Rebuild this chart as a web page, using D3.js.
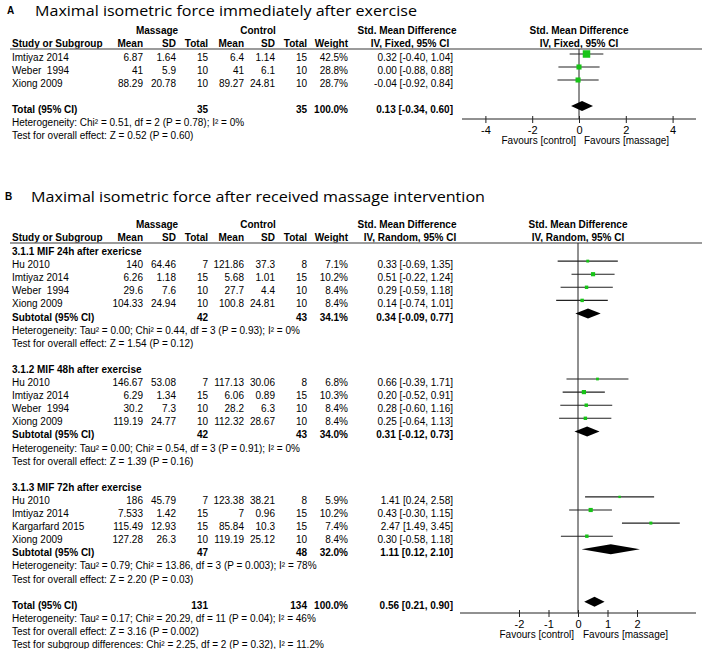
<!DOCTYPE html>
<html><head><meta charset="utf-8">
<script src="https://cdn.jsdelivr.net/npm/d3@7"></script>
<style>
body{margin:0;background:#fff;}
svg text{font-family:"Liberation Sans",Arial,sans-serif;font-size:10px;fill:#000;white-space:pre;}
</style></head>
<body><svg id="c" width="708" height="649"></svg>
<script>
// ---------- Panel A data ----------
const titleA = "Maximal isometric force immediately after exercise";
const studyA = ["Imtiyaz 2014", "Weber  1994", "Xiong 2009"];
const mMeanA = ["6.87", "41", "88.29"];
const mSDA = ["1.64", "5.9", "20.78"];
const mNA = [15, 10, 10];
const cMeanA = ["6.4", "41", "89.27"];
const cSDA = ["1.14", "6.1", "24.81"];
const cNA = [15, 10, 10];
const weightA = [42.5, 28.8, 28.7];
const smdA = [0.32, 0.00, -0.04];
const loA = [-0.40, -0.88, -0.92];
const hiA = [1.04, 0.88, 0.84];
const totalA = {mN: 35, cN: 35, w: 100.0, smd: 0.13, lo: -0.34, hi: 0.60};
const hetA = "Heterogeneity: Chi² = 0.51, df = 2 (P = 0.78); I² = 0%";
const testA = "Test for overall effect: Z = 0.52 (P = 0.60)";
const ticksA = [-4, -2, 0, 2, 4];

// ---------- Panel B data ----------
const titleB = "Maximal isometric force after received massage intervention";
const groupLabelB = ["3.1.1 MIF 24h after exericse", "3.1.2 MIF 48h after exercise", "3.1.3 MIF 72h after exercise"];
const groupB = [0,0,0,0, 1,1,1,1, 2,2,2,2];
const studyB = ["Hu 2010","Imtiyaz 2014","Weber  1994","Xiong 2009",
                "Hu 2010","Imtiyaz 2014","Weber  1994","Xiong 2009",
                "Hu 2010","Imtiyaz 2014","Kargarfard 2015","Xiong 2009"];
const mMeanB = ["140","6.26","29.6","104.33", "146.67","6.29","30.2","119.19", "186","7.533","115.49","127.28"];
const mSDB = ["64.46","1.18","7.6","24.94", "53.08","1.34","7.3","24.77", "45.79","1.42","12.93","26.3"];
const mNB = [7,15,10,10, 7,15,10,10, 7,15,15,10];
const cMeanB = ["121.86","5.68","27.7","100.8", "117.13","6.06","28.2","112.32", "123.38","7","85.84","119.19"];
const cSDB = ["37.3","1.01","4.4","24.81", "30.06","0.89","6.3","28.67", "38.21","0.96","10.3","25.12"];
const cNB = [8,15,10,10, 8,15,10,10, 8,15,15,10];
const weightB = [7.1,10.2,8.4,8.4, 6.8,10.3,8.4,8.4, 5.9,10.2,7.4,8.4];
const smdB = [0.33,0.51,0.29,0.14, 0.66,0.20,0.28,0.25, 1.41,0.43,2.47,0.30];
const loB = [-0.69,-0.22,-0.59,-0.74, -0.39,-0.52,-0.60,-0.64, 0.24,-0.30,1.49,-0.58];
const hiB = [1.35,1.24,1.18,1.01, 1.71,0.91,1.16,1.13, 2.58,1.15,3.45,1.18];
const subMNB = [42, 42, 47];
const subCNB = [43, 43, 48];
const subWB = [34.1, 34.0, 32.0];
const subSmdB = [0.34, 0.31, 1.11];
const subLoB = [-0.09, -0.12, 0.12];
const subHiB = [0.77, 0.73, 2.10];
const subHetB = ["Heterogeneity: Tau² = 0.00; Chi² = 0.44, df = 3 (P = 0.93); I² = 0%",
                 "Heterogeneity: Tau² = 0.00; Chi² = 0.54, df = 3 (P = 0.91); I² = 0%",
                 "Heterogeneity: Tau² = 0.79; Chi² = 13.86, df = 3 (P = 0.003); I² = 78%"];
const subTestB = ["Test for overall effect: Z = 1.54 (P = 0.12)",
                  "Test for overall effect: Z = 1.39 (P = 0.16)",
                  "Test for overall effect: Z = 2.20 (P = 0.03)"];
const totalB = {mN: 131, cN: 134, w: 100.0, smd: 0.56, lo: 0.21, hi: 0.90};
const totalTextB = ["Heterogeneity: Tau² = 0.17; Chi² = 20.29, df = 11 (P = 0.04); I² = 46%",
                    "Test for overall effect: Z = 3.16 (P = 0.002)",
                    "Test for subgroup differences: Chi² = 2.25, df = 2 (P = 0.32), I² = 11.2%"];
const ticksB = [-2, -1, 0, 1, 2];

// ---------- drawing ----------
const svg = d3.select("#c");
const GREEN = "#17c417";
const col = {study: 12, mMean: 143, mSD: 176, mN: 208, cMean: 244, cSD: 275, cN: 307, w: 348, ci: 453};
const fmt = v => v.toFixed(2);
const ciText = (s, l, h) => `${fmt(s)} [${fmt(l)}, ${fmt(h)}]`;

function txt(g, x, y, s, anchor, bold) {
  return g.append("text").attr("x", x).attr("y", y).attr("text-anchor", anchor || "start")
    .attr("font-weight", bold ? "bold" : null).text(s);
}

function header(g, y0, ciLabel, x) {
  txt(g, 157, y0, "Massage", "middle", true);
  txt(g, 258, y0, "Control", "middle", true);
  txt(g, 407, y0, "Std. Mean Difference", "middle", true);
  txt(g, x(0), y0, "Std. Mean Difference", "middle", true);
  const y1 = y0 + 12.5;
  txt(g, col.study, y1, "Study or Subgroup", "start", true);
  [["Mean", col.mMean], ["SD", col.mSD], ["Total", col.mN], ["Mean", col.cMean], ["SD", col.cSD], ["Total", col.cN], ["Weight", col.w]]
    .forEach(([s, cx]) => txt(g, cx, y1, s, "end", true));
  txt(g, 410, y1, ciLabel, "middle", true);
  txt(g, x(0), y1, ciLabel, "middle", true);
  g.append("line").attr("x1", 10).attr("x2", 702).attr("y1", y1 + 2.5).attr("y2", y1 + 2.5)
    .attr("stroke", "#7a7a7a").attr("stroke-width", 1.6);
  return y1 + 2.5;
}

function studyRow(g, y, d, x, sz) {
  txt(g, col.study, y, d.study);
  txt(g, col.mMean, y, d.mMean, "end");
  txt(g, col.mSD, y, d.mSD, "end");
  txt(g, col.mN, y, d.mN, "end");
  txt(g, col.cMean, y, d.cMean, "end");
  txt(g, col.cSD, y, d.cSD, "end");
  txt(g, col.cN, y, d.cN, "end");
  txt(g, col.w, y, d.w.toFixed(1) + "%", "end");
  txt(g, col.ci, y, ciText(d.smd, d.lo, d.hi), "end");
  const my = y - 7;
  g.append("line").attr("x1", x(d.lo)).attr("x2", x(d.hi)).attr("y1", my).attr("y2", my)
    .attr("stroke", "#222").attr("stroke-width", 1.1);
  const s = sz(d.w);
  g.append("rect").attr("x", x(d.smd) - s / 2).attr("y", my - s / 2).attr("width", s).attr("height", s)
    .attr("fill", GREEN);
}

function totalRow(g, y, label, t, x) {
  txt(g, col.study, y, label, "start", true);
  txt(g, col.mN, y, t.mN, "end", true);
  txt(g, col.cN, y, t.cN, "end", true);
  txt(g, col.w, y, t.w.toFixed(1) + "%", "end", true);
  txt(g, col.ci, y, ciText(t.smd, t.lo, t.hi), "end", true);
  const my = y - 7, h = 5;
  g.append("path").attr("d", `M${x(t.lo)},${my} L${x(t.smd)},${my - h} L${x(t.hi)},${my} L${x(t.smd)},${my + h} Z`)
    .attr("fill", "#000");
}

function axis(g, y, x, ticks) {
  const ax = d3.axisBottom(x).tickValues(ticks).tickSize(4).tickFormat(d => String(d));
  const a = g.append("g").attr("transform", `translate(0,${y})`).call(ax);
  a.select(".domain").attr("d", `M${x.range()[0]},0H${x.range()[1]}`).attr("stroke", "#222");
  a.selectAll(".tick line").attr("y1", -3).attr("y2", 4).attr("stroke", "#222");
  a.selectAll(".tick text").attr("y", 7).attr("dy", "0.71em").style("font-size", "11px")
    .style("font-family", "'Liberation Sans',Arial,sans-serif").attr("fill", "#000");
}

function title(g, lx, tx, y, letter, s, len) {
  g.append("text").attr("x", lx).attr("y", y - 2).attr("font-weight", "bold").style("font-size", "10px").text(letter);
  g.append("text").attr("x", tx).attr("y", y).style("font-family", "'Open Sans',sans-serif").style("font-size", "14.5px")
    .attr("textLength", len).attr("lengthAdjust", "spacingAndGlyphs").text(s);
}

// ===== Panel A =====
const gA = svg.append("g");
const xA = d3.scaleLinear().domain([-5, 5]).range([462, 696]);
const sizeA = d3.scaleLinear().domain([0, d3.max(weightA)]).range([0, 7.5]);
title(gA, 7, 35, 16, "A", titleA, 382);
const lineA = header(gA, 34, "IV, Fixed, 95% CI", xA);
const stepA = 13;
const rowsA = studyA.map((s, i) => ({study: s, mMean: mMeanA[i], mSD: mSDA[i], mN: mNA[i], cMean: cMeanA[i], cSD: cSDA[i], cN: cNA[i], w: weightA[i], smd: smdA[i], lo: loA[i], hi: hiA[i]}));
const axisYA = 119;
gA.append("line").attr("x1", xA(0)).attr("x2", xA(0)).attr("y1", lineA).attr("y2", axisYA).attr("stroke", "#222");
rowsA.forEach((d, i) => studyRow(gA, 61 + i * stepA, d, xA, sizeA));
totalRow(gA, 61 + 4 * stepA, "Total (95% CI)", totalA, xA);
txt(gA, col.study, 61 + 5 * stepA, hetA);
txt(gA, col.study, 61 + 6 * stepA, testA);
axis(gA, axisYA, xA, ticksA);
txt(gA, xA(0) - 3, 144, "Favours [control]", "end");
txt(gA, xA(0) + 5, 144, "Favours [massage]", "start");

// ===== Panel B =====
const gB = svg.append("g");
const xB = d3.scaleLinear().domain([-4, 4]).range([460, 696]);
const sizeB = d3.scaleLinear().domain([0, d3.max(weightB)]).range([0, 4.2]);
title(gB, 5, 31, 202, "B", titleB, 454);
const lineB = header(gB, 228, "IV, Random, 95% CI", xB);
const axisYB = 613;
gB.append("line").attr("x1", xB(0)).attr("x2", xB(0)).attr("y1", lineB).attr("y2", axisYB).attr("stroke", "#222");
const y0B = 255, stepB = 13.1;
const rowY = i => y0B + i * stepB;
const rowsB = studyB.map((s, i) => ({g: groupB[i], study: s, mMean: mMeanB[i], mSD: mSDB[i], mN: mNB[i], cMean: cMeanB[i], cSD: cSDB[i], cN: cNB[i], w: weightB[i], smd: smdB[i], lo: loB[i], hi: hiB[i]}));
groupLabelB.forEach((lab, gi) => {
  const base = gi * 9;
  txt(gB, col.study, rowY(base), lab, "start", true);
  rowsB.filter(d => d.g === gi).forEach((d, j) => studyRow(gB, rowY(base + 1 + j), d, xB, sizeB));
  totalRow(gB, rowY(base + 5), "Subtotal (95% CI)", {mN: subMNB[gi], cN: subCNB[gi], w: subWB[gi], smd: subSmdB[gi], lo: subLoB[gi], hi: subHiB[gi]}, xB);
  txt(gB, col.study, rowY(base + 6), subHetB[gi]);
  txt(gB, col.study, rowY(base + 7), subTestB[gi]);
});
totalRow(gB, rowY(27), "Total (95% CI)", totalB, xB);
totalTextB.forEach((s, i) => txt(gB, col.study, rowY(28 + i), s));
axis(gB, axisYB, xB, ticksB);
txt(gB, xB(0) - 4, 638, "Favours [control]", "end");
txt(gB, xB(0) + 5, 638, "Favours [massage]", "start");
</script></body></html>
